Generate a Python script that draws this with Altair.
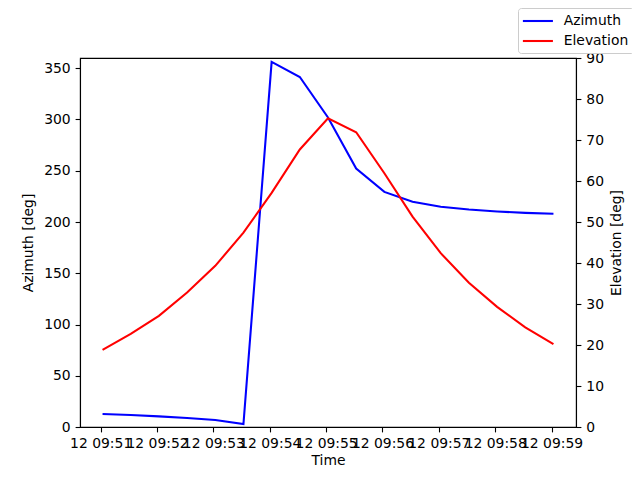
import altair as alt
import pandas as pd

# --- data ---
DAY = "2024-06-12"
times = ["09:51:02", "09:51:32", "09:52:02", "09:52:32", "09:53:02", "09:53:32",
         "09:54:02", "09:54:32", "09:55:02", "09:55:32", "09:56:02", "09:56:32",
         "09:57:02", "09:57:32", "09:58:02", "09:58:32", "09:59:02"]
azimuth = [12.7, 11.7, 10.4, 8.8, 6.8, 2.9, 356.2, 341.5, 302.0, 252.2,
           229.4, 219.7, 214.8, 212.2, 210.3, 208.9, 208.0]
elevation = [18.8, 22.7, 27.1, 32.8, 39.3, 47.4, 57.1, 67.7, 75.3, 71.9,
             61.9, 51.3, 42.4, 35.2, 29.3, 24.3, 20.2]
tick_minutes = [51, 52, 53, 54, 55, 56, 57, 58, 59]
az_ticks = [0, 50, 100, 150, 200, 250, 300, 350]
el_ticks = [0, 10, 20, 30, 40, 50, 60, 70, 80, 90]
series = ["Azimuth", "Elevation"]
colors = ["blue", "red"]

df = pd.DataFrame({
    "Time": [f"{DAY}T{t}" for t in times],
    "Azimuth": azimuth,
    "Elevation": elevation,
})

ts = pd.to_datetime(df["Time"])
span = ts.max() - ts.min()
lo = ts.min() - 0.05 * span
hi = ts.max() + 0.05 * span


def to_dt(t):
    return alt.DateTime(year=t.year, month=t.month, date=t.day, hours=t.hour,
                        minutes=t.minute, seconds=t.second,
                        milliseconds=t.microsecond // 1000)


d0 = pd.Timestamp(DAY)
tick_vals = [alt.DateTime(year=d0.year, month=d0.month, date=d0.day, hours=9,
                          minutes=m) for m in tick_minutes]

FONT = "DejaVu Sans"
FS = 13.9
LW = 2.08

color_scale = alt.Scale(domain=series, range=colors)
legend = alt.Legend(
    title=None, orient="none", legendX=438, legendY=-50,
    symbolType="M-2.31,0H2.31", symbolSize=169, symbolStrokeWidth=LW,
    symbolOffset=6.9,
    labelFont=FONT, labelFontSize=FS, labelColor="black", labelOffset=17.8,
    padding=5, rowPadding=5, strokeColor="#cccccc", cornerRadius=3,
    fillColor="white",
)

base = alt.Chart(df).encode(
    x=alt.X("Time:T",
            scale=alt.Scale(domain=[to_dt(lo), to_dt(hi)], nice=False),
            axis=alt.Axis(values=tick_vals, format="%d %H:%M",
                          labelOverlap=False, title="Time", titlePadding=3))
)

az_line = base.transform_calculate(series="'Azimuth'").mark_line(strokeWidth=LW).encode(
    y=alt.Y("Azimuth:Q", scale=alt.Scale(domain=[0, 360], nice=False),
            axis=alt.Axis(title="Azimuth [deg]", values=az_ticks, orient="left",
                          titlePadding=8)),
    color=alt.Color("series:N", scale=color_scale, legend=legend),
)

el_line = base.transform_calculate(series="'Elevation'").mark_line(strokeWidth=LW).encode(
    y=alt.Y("Elevation:Q", scale=alt.Scale(domain=[0, 90], nice=False),
            axis=alt.Axis(title="Elevation [deg]", values=el_ticks, orient="right",
                          titleAngle=270, titlePadding=20)),
    color=alt.Color("series:N", scale=color_scale, legend=legend),
)

chart = alt.layer(az_line, el_line).resolve_scale(y="independent").properties(
    width=496, height=369,
    padding={"left": 72, "top": 50, "right": 56, "bottom": 45},
    autosize=alt.AutoSizeParams(type="none"),
).configure_view(
    stroke="black", strokeWidth=1.1
).configure_axis(
    grid=False, domainColor="black", domainWidth=1.1,
    tickColor="black", tickWidth=1.1, tickSize=4.9,
    labelFont=FONT, labelFontSize=FS, labelColor="black", labelPadding=4.9,
    titleFont=FONT, titleFontSize=FS, titleFontWeight="normal", titleColor="black",
)

chart.save("out.html", embed_options={"renderer": "svg", "actions": False})
